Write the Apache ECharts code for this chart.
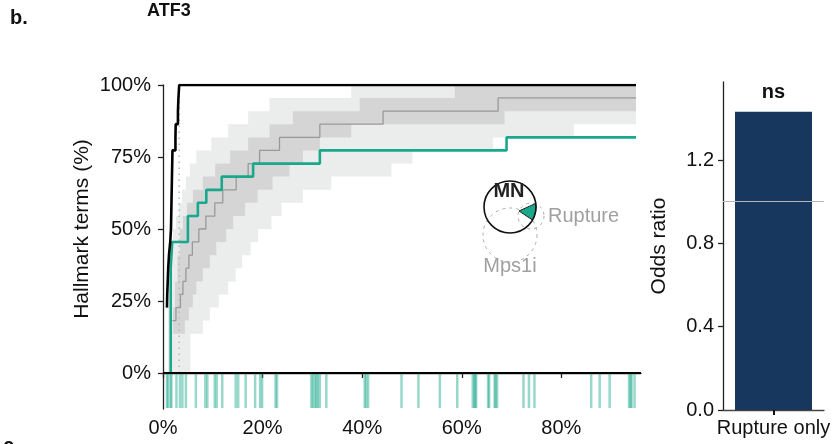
<!DOCTYPE html>
<html>
<head>
<meta charset="utf-8">
<script src="https://cdn.jsdelivr.net/npm/echarts/dist/echarts.min.js"></script>
<style>
  html, body { margin: 0; padding: 0; background: #fff; }
  #chart { width: 835px; height: 444px; }
</style>
</head>
<body>
<div id="chart"></div>
<script>
// ---- data (x = % of ranked genes, y = % of hallmark terms) ----
const xTicks = [0, 20, 40, 60, 80];
const yTicks = [0, 25, 50, 75, 100];
const orTicks = [0, 0.4, 0.8, 1.2];
const xEnd = 95;

// observed curves (step points)
const blackStep = [[0.8,22.7],[0.85,27.3],[0.95,31.8],[1.05,36.4],[1.2,40.9],[1.45,45.5],[1.6,50],[1.65,54.5],[1.7,59.1],[1.75,63.6],[1.8,68.2],[1.85,72.7],[1.9,77.3],[2.5,81.8],[2.55,86.4],[3.0,90.9],[3.1,95.5],[3.25,100],[95,100]];
const tealStep = [[1.55,0],[1.55,36.4],[1.7,40.9],[1.85,45.5],[5.0,54.5],[7.0,59.1],[8.7,63.6],[11.8,68.2],[18.1,72.7],[31.5,77.3],[69.0,81.8],[95,81.8]];
const medianStep = [[1.9,18.2],[2.6,22.7],[3.5,27.3],[4.0,31.8],[4.6,36.4],[5.2,40.9],[5.9,45.5],[7.2,50],[8.6,54.5],[10.4,59.1],[12.0,63.6],[14.7,68.2],[17.1,72.7],[19.4,77.3],[23.4,81.8],[31.5,86.4],[44.2,90.9],[67.3,95.5],[95,95.5]];

// null bands: outer (light) and inner (dark)
const outerHi = [[1.0,22.7],[1.3,31.8],[1.6,40.9],[2.0,50],[2.6,54.5],[3.2,59.1],[3.8,63.6],[4.6,68.2],[5.4,72.7],[6.7,77.3],[9.7,81.8],[13.1,86.4],[17.1,90.9],[21.4,95.5],[37.8,100]];
const outerLo = [[1.0,0],[5.5,13.6],[8.0,18.2],[9.4,22.7],[11.2,27.3],[13.1,31.8],[14.6,36.4],[15.9,40.9],[17.6,45.5],[19.1,50],[21.8,54.5],[23.8,59.1],[28.1,63.6],[33.8,68.2],[45.9,72.7],[50.1,77.3],[66.3,81.8],[82.5,86.4]];
const innerHi = [[2.0,22.7],[2.4,31.8],[2.9,40.9],[3.4,50],[4.0,54.5],[4.8,59.1],[6.0,63.6],[8.0,68.2],[10.5,72.7],[13.5,77.3],[17.1,81.8],[21.4,86.4],[26.1,90.9],[39.5,95.5],[58.6,100]];
const innerLo = [[2.0,13.6],[4.4,18.2],[5.2,22.7],[6.0,27.3],[6.7,31.8],[8.0,36.4],[9.4,40.9],[10.7,45.5],[12.7,50],[14.1,54.5],[16.5,59.1],[19.0,63.6],[22.0,68.2],[25.4,72.7],[28.1,77.3],[31.5,81.8],[37.8,86.4],[68.6,90.9]];

const randomLineX = 3.25;

// rug: positions of hits
const rugX = [0.8,1.0,1.5,1.7,2.7,3.4,3.9,4.6,6.6,8.5,8.9,10.4,10.8,11.9,14.6,15.1,16.6,18.5,19.5,19.9,22.6,22.9,29.8,30.1,30.5,30.8,31.1,31.5,32.8,40.5,40.8,41.2,47.9,51.3,55.6,59.1,62.2,62.5,62.7,62.9,65.3,65.5,66.6,66.8,67.1,72.4,73.5,74.6,86.0,87.7,89.7,93.6,93.9,94.1,94.7];
const rugBottom = -12.5;

// odds ratio panel
const orCategories = ['Rupture only'];
const orValues = [1.432];
const orLabels = ['ns'];
const orRef = 1.0;

const TEAL = '#1aa88c';
const FONT = '"Liberation Sans", Arial, sans-serif';

function stepEdge(steps, api) {
  const pts = [];
  for (let i = 0; i < steps.length; i++) {
    const x1 = i + 1 < steps.length ? steps[i + 1][0] : xEnd;
    pts.push(api.coord([steps[i][0], steps[i][1]]));
    pts.push(api.coord([x1, steps[i][1]]));
  }
  return pts;
}

function band(hi, lo, color, z) {
  return {
    type: 'custom', xAxisIndex: 0, yAxisIndex: 0, silent: true, z: z,
    data: [[0, 0]],
    renderItem: function (params, api) {
      const pts = stepEdge(hi, api).concat(stepEdge(lo, api).reverse());
      return { type: 'polygon', shape: { points: pts }, style: { fill: color } };
    }
  };
}

// teal wedge in the inset (MN circle x Rupture)
const wedge = [[519, 211]];
for (let a = -8; a <= 31; a += 2) {
  const r = a * Math.PI / 180;
  wedge.push([510 + 26 * Math.cos(r), 207 + 26 * Math.sin(r)]);
}

const chart = echarts.init(document.getElementById('chart'));

const axisLine = { show: true, lineStyle: { color: '#222', width: 1.3 } };
const tickStyle = { color: '#222', width: 1.3 };

chart.setOption({
  animation: false,
  textStyle: { fontFamily: FONT },
  grid: [
    { left: 163, top: 85, width: 478, height: 324 },
    { left: 723, top: 82, width: 101, height: 328 }
  ],
  xAxis: [
    {
      type: 'value', gridIndex: 0, min: 0, max: 96,
      axisLine: axisLine,
      axisTick: { show: true, length: 5, lineStyle: tickStyle, customValues: xTicks },
      axisLabel: { customValues: xTicks, formatter: v => v + '%', fontSize: 20, color: '#111', margin: 9, fontFamily: FONT },
      splitLine: { show: false }
    },
    {
      type: 'category', gridIndex: 1, data: orCategories,
      axisLine: { show: true, lineStyle: { color: '#444', width: 1.3 } },
      axisTick: { show: true, alignWithLabel: true, length: 5, lineStyle: { color: '#111', width: 2 } },
      axisLabel: { fontSize: 20, color: '#111', margin: 8, fontFamily: FONT }
    }
  ],
  yAxis: [
    {
      type: 'value', gridIndex: 0, min: -12.5, max: 100,
      axisLine: axisLine,
      axisTick: { show: true, length: 5, lineStyle: tickStyle, customValues: yTicks },
      axisLabel: { customValues: yTicks, formatter: v => v + '%', fontSize: 20, color: '#111', margin: 12, fontFamily: FONT },
      splitLine: { show: false }
    },
    {
      type: 'value', gridIndex: 1, min: 0, max: 1.575,
      name: 'Odds ratio', nameLocation: 'middle', nameGap: 53,
      nameTextStyle: { fontSize: 21, color: '#111', fontFamily: FONT },
      axisLine: axisLine,
      axisTick: { show: true, length: 5, lineStyle: tickStyle, customValues: orTicks },
      axisLabel: { customValues: orTicks, formatter: v => v.toFixed(1), fontSize: 20, color: '#111', margin: 9, fontFamily: FONT },
      splitLine: { show: false }
    }
  ],
  series: [
    band(outerHi, outerLo, '#ebecec', 1),
    band(innerHi, innerLo, '#d5d5d5', 2),
    {
      type: 'line', xAxisIndex: 0, yAxisIndex: 0, step: 'end', showSymbol: false, silent: true, z: 3,
      data: medianStep, lineStyle: { color: '#999', width: 1.3 }
    },
    {
      type: 'line', xAxisIndex: 0, yAxisIndex: 0, showSymbol: false, silent: true, z: 3,
      data: [[randomLineX, 0], [randomLineX, 100]],
      lineStyle: { color: '#b8b8b8', width: 1.5, type: [1.5, 4.5] }
    },
    {
      type: 'line', xAxisIndex: 0, yAxisIndex: 0, step: 'end', showSymbol: false, silent: true, z: 4,
      data: tealStep, lineStyle: { color: TEAL, width: 2.6 }
    },
    {
      type: 'line', xAxisIndex: 0, yAxisIndex: 0, step: 'end', showSymbol: false, silent: true, z: 5,
      data: blackStep, lineStyle: { color: '#000', width: 2.6 }
    },
    {
      type: 'line', xAxisIndex: 0, yAxisIndex: 0, showSymbol: false, silent: true, z: 5,
      data: [[0, 0], [96, 0]], lineStyle: { color: '#000', width: 2 }
    },
    {
      type: 'custom', xAxisIndex: 0, yAxisIndex: 0, silent: true, z: 6,
      data: rugX.map(x => [x]),
      renderItem: function (params, api) {
        const x = api.value(0);
        const p0 = api.coord([x, 0]);
        const p1 = api.coord([x, rugBottom]);
        return {
          type: 'line',
          shape: { x1: p0[0], y1: p0[1] + 1, x2: p1[0], y2: p1[1] - 1 },
          style: { stroke: TEAL, opacity: 0.45, lineWidth: 2.5 }
        };
      }
    },
    {
      type: 'bar', xAxisIndex: 1, yAxisIndex: 1, barWidth: 77, silent: true,
      data: orValues,
      itemStyle: { color: '#17375e' },
      label: {
        show: true, position: 'top', distance: 9,
        formatter: p => orLabels[p.dataIndex],
        fontSize: 20, fontWeight: 'bold', color: '#111', fontFamily: FONT
      },
      markLine: {
        silent: true, symbol: 'none', label: { show: false },
        lineStyle: { color: '#b5b5b5', width: 1, type: 'solid' },
        data: [{ yAxis: orRef }]
      }
    }
  ],
  graphic: [
    { type: 'text', x: 10, y: 18, style: { text: 'b.', font: 'bold 20px ' + FONT, fill: '#111', verticalAlign: 'middle' } },
    { type: 'text', x: 147, y: 11, style: { text: 'ATF3', font: 'bold 18px ' + FONT, fill: '#111', verticalAlign: 'middle' } },
    { type: 'text', x: 3, y: 446, style: { text: 'c.', font: 'bold 20px ' + FONT, fill: '#111', verticalAlign: 'middle' } },
    { type: 'text', x: 82, y: 229, rotation: Math.PI / 2,
      style: { text: 'Hallmark terms (%)', font: '21px ' + FONT, fill: '#111', align: 'center', verticalAlign: 'middle' } },
    // inset schematic
    { type: 'circle', z: 100, shape: { cx: 510, cy: 235, r: 27 }, style: { fill: 'none', stroke: '#aaa', lineWidth: 1, lineDash: [3, 4] } },
    { type: 'circle', z: 100, shape: { cx: 531, cy: 216, r: 13 }, style: { fill: 'none', stroke: '#aaa', lineWidth: 1, lineDash: [3, 4] } },
    { type: 'polygon', z: 101, shape: { points: wedge }, style: { fill: TEAL, stroke: '#222', lineWidth: 1 } },
    { type: 'circle', z: 102, shape: { cx: 510, cy: 207, r: 26 }, style: { fill: 'none', stroke: '#111', lineWidth: 1.6 } },
    { type: 'text', z: 102, x: 509, y: 191, style: { text: 'MN', font: 'bold 20px ' + FONT, fill: '#222', align: 'center', verticalAlign: 'middle' } },
    { type: 'text', z: 102, x: 548, y: 216, style: { text: 'Rupture', font: '20px ' + FONT, fill: '#a0a0a0', align: 'left', verticalAlign: 'middle' } },
    { type: 'text', z: 102, x: 510, y: 266, style: { text: 'Mps1i', font: '20px ' + FONT, fill: '#a0a0a0', align: 'center', verticalAlign: 'middle' } }
  ]
});
</script>
</body>
</html>
